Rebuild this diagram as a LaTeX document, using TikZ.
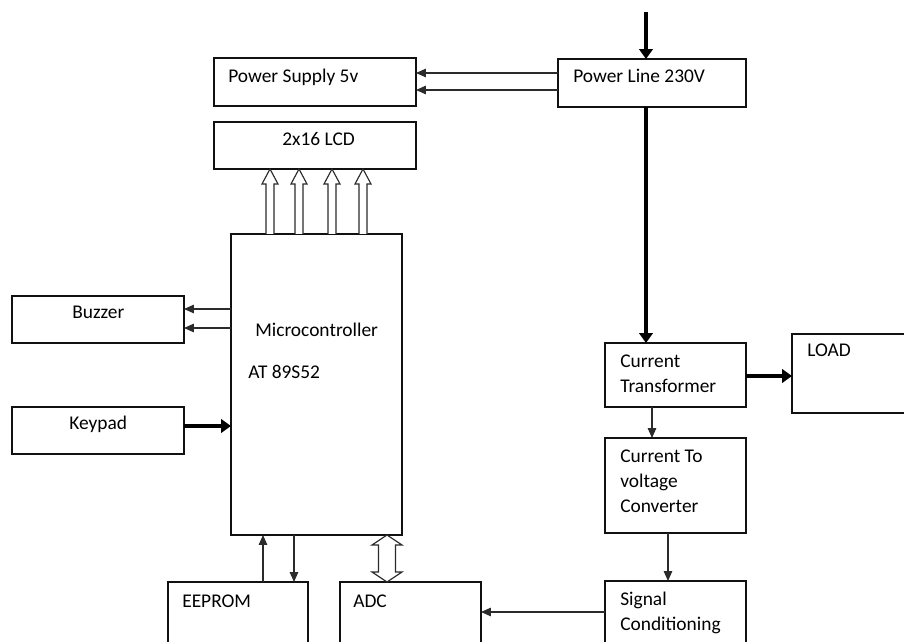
\documentclass[tikz,border=0pt]{standalone}
\usepackage{fontspec}
\setmainfont{Carlito}
\usepackage{tikz}
\usetikzlibrary{arrows.meta,positioning,calc}
\definecolor{boxline}{HTML}{111111}
\definecolor{wire}{HTML}{2B2B2B}

\tikzset{
  blk/.style 2 args={draw=boxline,line width=0.8pt,rectangle,anchor=north west,
    inner sep=0pt,outer sep=0pt,minimum width=#1*0.025cm,minimum height=#2*0.025cm},
  txt/.style={anchor=base west,inner sep=0pt,align=left,
    font=\fontsize{13.8}{17.8}\selectfont},
  sig/.style={draw=wire,line width=0.9pt,-{Triangle[length=7pt,width=6pt]}},
  pwr/.style={draw=black,line width=2.8pt,-{Triangle[length=7pt,width=9.5pt]}},
  bus/.style={draw=wire,line width=0.8pt,fill=white,line join=miter},
}

\begin{document}
\begin{tikzpicture}[x=0.025cm,y=-0.025cm]
\useasboundingbox (0,0) rectangle (904,642);
\clip (0,0) rectangle (904,642);

% blocks
\node[blk={202}{48}] (psu) at (214,58) {};
\node[blk={188}{48}] (pline) at (558,59) {};
\node[blk={202}{47}] (lcd) at (214,122) {};
\node[blk={171}{301}] (mcu) at (231,234) {};
\node[blk={172}{47}] (buzz) at (12,296) {};
\node[blk={172}{47}] (keyp) at (12,407) {};
\node[blk={140}{80}] (eeprom) at (168,582) {};
\node[blk={141}{80}] (adc) at (340,582) {};
\node[blk={141}{64}] (ct) at (605,343) {};
\node[blk={141}{95}] (ctov) at (605,438) {};
\node[blk={141}{80}] (sigc) at (605,581) {};
\node[blk={130}{79}] (load) at (792,334) {};

% labels (multi-line ones sit on their last baseline)
\node[txt] (tpsu) at (228,83) {Power Supply 5v};
\node[txt] (tpline) at (573,83) {Power Line 230V};
\node[txt] (tlcd) at (282,146) {2x16 LCD};
\node[txt] (tmcu) at (255,337) {Microcontroller};
\node[txt] (tchip) at (248,379) {AT 89S52};
\node[txt] (tbuzz) at (72,319) {Buzzer};
\node[txt] (tkeyp) at (69,430) {Keypad};
\node[txt] (teeprom) at (182,608) {EEPROM};
\node[txt] (tadc) at (353,608) {ADC};
\node[txt] (tct) at (620,393) {Current\\Transformer};
\node[txt] (tctov) at (620,513) {Current To\\voltage\\Converter};
\node[txt] (tsigc) at (620,631) {Signal\\Conditioning};
\node[txt] (tload) at (807,357) {LOAD};

% mains path
\coordinate (mains) at (646,12);
\draw[pwr] (mains) -- (mains |- pline.north);
\draw[pwr] (mains |- pline.south) -- (mains |- ct.north);
\draw[pwr] (ct.east |- 0,376) -- (load.west |- 0,376);
\foreach \y in {73,90}
  \draw[sig] (pline.west |- 0,\y) -- (psu.east |- 0,\y);

% measuring chain
\draw[sig] (652,0 |- ct.south) -- (652,0 |- ctov.north);
\draw[sig] (668,0 |- ctov.south) -- (668,0 |- sigc.north);
\draw[sig] (sigc.west |- 0,612) -- (adc.east |- 0,612);

% controller side
\foreach \y in {309,328}
  \draw[sig] (mcu.west |- 0,\y) -- (buzz.east |- 0,\y);
\draw[pwr] (keyp.east |- 0,426) -- (mcu.west |- 0,426);
\draw[sig] (263,0 |- eeprom.north) -- (263,0 |- mcu.south);
\draw[sig] (294,0 |- mcu.south) -- (294,0 |- eeprom.north);

% data buses
\foreach \x in {270,299,332,363}
  \draw[bus] (\x-4,0 |- mcu.north) -- ($(\x,0 |- lcd.south)+(-4,15)$) -- ++(-4,0)
    -- (\x,0 |- lcd.south) -- ++(8,15) -- ++(-4,0) -- (\x+4,0 |- mcu.north);
\draw[bus] (387,0 |- mcu.south) -- ++(15,10) -- ++(-6.5,0)
  -- ($(387,0 |- adc.north)+(8.5,-10)$) -- ++(6.5,0) -- (387,0 |- adc.north)
  -- ++(-15,-10) -- ++(6.5,0) -- ($(387,0 |- mcu.south)+(-8.5,10)$)
  -- ++(-6.5,0) -- cycle;
\end{tikzpicture}
\end{document}
